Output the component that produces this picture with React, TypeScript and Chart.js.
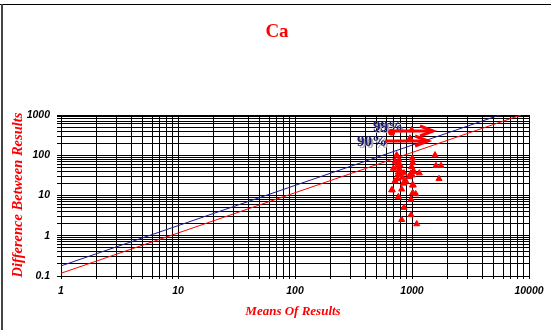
import React, { useEffect, useRef } from "react";
import { Chart, registerables } from "chart.js";

Chart.register(...registerables);

const titleText = "Ca";
const xAxisTitle = "Means Of Results";
const yAxisTitle = "Difference Between Results";

const xDecades = [1, 10, 100, 1000, 10000];
const xDecadeLabels = ["1", "10", "100", "1000", "10000"];
const yDecades = [0.1, 1, 10, 100, 1000];
const yDecadeLabels = ["0.1", "1", "10", "100", "1000"];
const minorSteps = [2, 3, 4, 5, 6, 7, 8, 9];

// Data points (mean, difference)
const meansX = [
  994, 961, 740, 1006, 1573, 1014, 1603, 1770, 774, 755, 789, 740, 692, 764,
  994, 855, 980, 1155, 1040, 1701, 716, 755, 826, 855, 1006, 670, 816, 1014,
  1076, 764, 980, 855, 980, 816, 1097, 884, 943, 1006, 843, 679, 1026, 720,
  780, 800, 760,
];
const diffsY = [
  424, 264, 101, 84, 101, 65, 55, 55, 76, 63, 57, 52, 47, 38, 52, 36, 36, 36,
  39, 26, 23, 26, 28, 21, 18, 13.7, 14.3, 11.7, 10.9, 9.3, 8.0, 5.0, 3.3, 2.5,
  1.96, 23, 29, 32, 20, 13.7, 18, 70, 45, 40, 33,
];

// Reference lines
const line99X = [1, 5620];
const line99Y = [0.178, 1000];
const line90X = [1, 8550];
const line90Y = [0.117, 1000];

// Annotations
const noteLabels = ["99%", "90%"];
const noteLabelX = [623, 455];
const noteLabelY = [504, 213];
const arrowStartX = [688, 588];
const arrowEndX = [1512, 1371];
const arrowY = [400, 226];
const dotX = [670];
const dotY = [372];

const buildTicks = (decades: number[]) => {
  const max = decades[decades.length - 1];
  const out: number[] = [];
  decades.forEach((d) => {
    out.push(d);
    if (d < max) minorSteps.forEach((m) => out.push(m * d));
  });
  return out;
};

const labelFor = (decades: number[], labels: string[]) => (value: any) => {
  const v = Number(value);
  const i = decades.findIndex((d) => Math.abs(d - v) / d < 1e-6);
  return i >= 0 ? labels[i] : "";
};

const tickFont = {
  family: "'Liberation Sans', Arial, sans-serif",
  size: 10.5,
  style: "italic" as const,
  weight: "bold" as const,
};

const decorPlugin = {
  id: "decor",
  afterDatasetsDraw(chart: any) {
    const ctx = chart.ctx;
    const xs = chart.scales.x;
    const ys = chart.scales.y;
    ctx.save();
    // labels with shadow
    ctx.font = "bold 15px 'Liberation Serif', 'Times New Roman', serif";
    ctx.textAlign = "center";
    ctx.textBaseline = "middle";
    noteLabels.forEach((t, i) => {
      const px = xs.getPixelForValue(noteLabelX[i]);
      const py = ys.getPixelForValue(noteLabelY[i]);
      ctx.fillStyle = "#a8a8a8";
      ctx.fillText(t, px + 2, py + 2);
      ctx.fillStyle = "#1c1c72";
      ctx.fillText(t, px, py);
    });
    // arrows
    ctx.strokeStyle = "#ff0000";
    ctx.lineWidth = 3;
    ctx.lineCap = "butt";
    arrowStartX.forEach((sx, i) => {
      const x1 = xs.getPixelForValue(sx);
      const x2 = xs.getPixelForValue(arrowEndX[i]);
      const y = ys.getPixelForValue(arrowY[i]);
      ctx.beginPath();
      ctx.moveTo(x1, y);
      ctx.lineTo(x2, y);
      ctx.stroke();
      ctx.beginPath();
      ctx.moveTo(x2 - 13, y - 5);
      ctx.lineTo(x2, y);
      ctx.lineTo(x2 - 13, y + 5);
      ctx.stroke();
    });
    // dot
    ctx.fillStyle = "#ff0000";
    dotX.forEach((dx, i) => {
      ctx.beginPath();
      ctx.arc(xs.getPixelForValue(dx), ys.getPixelForValue(dotY[i]), 3.5, 0, Math.PI * 2);
      ctx.fill();
    });
    ctx.restore();
  },
  afterDraw(chart: any) {
    const ctx = chart.ctx;
    ctx.save();
    // frame
    ctx.fillStyle = "#000";
    ctx.fillRect(0, 4, 551, 1);
    ctx.fillStyle = "#444";
    ctx.fillRect(1, 4, 2, 326);
    // title
    ctx.fillStyle = "#ff0000";
    ctx.textAlign = "center";
    ctx.textBaseline = "middle";
    ctx.font = "bold 19px 'Liberation Serif', 'Times New Roman', serif";
    ctx.fillText(titleText, 277, 32);
    // axis titles
    ctx.font = "italic bold 13px 'Liberation Serif', 'Times New Roman', serif";
    ctx.fillText(xAxisTitle, 293, 312);
    ctx.font = "italic bold 14.5px 'Liberation Serif', 'Times New Roman', serif";
    ctx.translate(18, 195);
    ctx.rotate(-Math.PI / 2);
    ctx.fillText(yAxisTitle, 0, 0);
    ctx.restore();
  },
};

export default function App() {
  const ref = useRef<HTMLCanvasElement | null>(null);
  useEffect(() => {
    if (!ref.current) return;
    const xTicks = buildTicks(xDecades);
    const yTicks = buildTicks(yDecades);
    const chart = new Chart(ref.current, {
      type: "scatter",
      data: {
        datasets: [
          {
            label: "Results",
            data: meansX.map((x, i) => ({ x, y: diffsY[i] })),
            pointStyle: "triangle",
            pointRadius: 3.5,
            backgroundColor: "#ff0000",
            borderColor: "#ff0000",
            borderWidth: 1,
            order: 0,
          },
          {
            label: "99%",
            data: line99X.map((x, i) => ({ x, y: line99Y[i] })),
            showLine: true,
            pointRadius: 0,
            borderColor: "#1a1a99",
            borderWidth: 1,
            order: 1,
          },
          {
            label: "90%",
            data: line90X.map((x, i) => ({ x, y: line90Y[i] })),
            showLine: true,
            pointRadius: 0,
            borderColor: "#ff0000",
            borderWidth: 1,
            order: 1,
          },
        ],
      },
      options: {
        animation: false,
        responsive: false,
        devicePixelRatio: 1,
        layout: { padding: { top: 115, right: 22, left: 0, bottom: 0 } },
        plugins: {
          legend: { display: false },
          title: { display: false },
          tooltip: { enabled: false },
        },
        scales: {
          x: {
            type: "logarithmic",
            min: 1,
            max: 10000,
            afterBuildTicks: (s: any) => {
              s.ticks = xTicks.map((v) => ({ value: v }));
            },
            afterFit: (s: any) => {
              s.height = 54;
            },
            grid: { color: "#000", lineWidth: 1, tickLength: 3, drawTicks: true },
            border: { color: "#000", width: 1 },
            ticks: {
              autoSkip: false,
              maxRotation: 0,
              minRotation: 0,
              padding: 6,
              color: "#000",
              font: tickFont,
              callback: labelFor(xDecades, xDecadeLabels),
            },
          },
          y: {
            type: "logarithmic",
            min: 0.1,
            max: 1000,
            afterBuildTicks: (s: any) => {
              s.ticks = yTicks.map((v) => ({ value: v }));
            },
            afterFit: (s: any) => {
              s.width = 61;
            },
            grid: { color: "#000", lineWidth: 1, tickLength: 4, drawTicks: true },
            border: { color: "#000", width: 1 },
            ticks: {
              autoSkip: false,
              padding: 7,
              color: "#000",
              font: tickFont,
              callback: labelFor(yDecades, yDecadeLabels),
            },
          },
        },
      },
      plugins: [decorPlugin],
    } as any);
    return () => chart.destroy();
  }, []);
  return (
    <div style={{ position: "fixed", left: 0, top: 0, width: 551, height: 330, background: "#fff" }}>
      <canvas ref={ref} width={551} height={330} style={{ display: "block" }} />
    </div>
  );
}
